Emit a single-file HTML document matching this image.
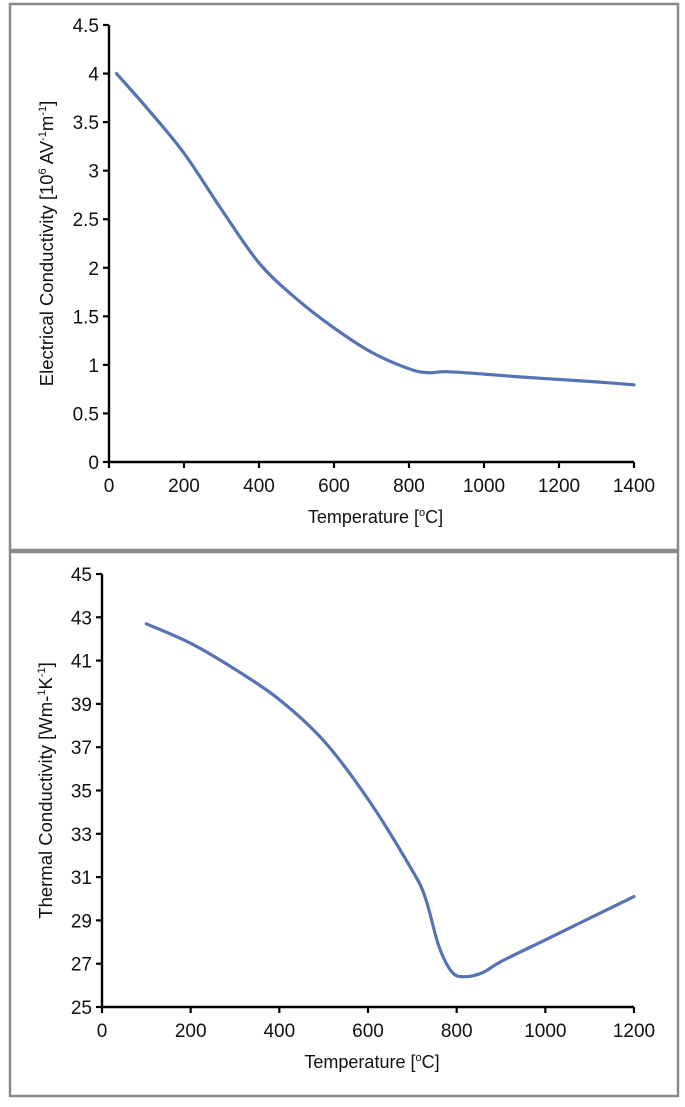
<!DOCTYPE html>
<html><head><meta charset="utf-8"><style>
html,body{margin:0;padding:0;background:#fff;}
svg{display:block;font-family:"Liberation Sans",Arial,sans-serif;}
</style></head><body>
<svg id="s" width="685" height="1107" viewBox="0 0 685 1107">
<rect x="10" y="4" width="668" height="546" fill="#fff" stroke="#8a8a8a" stroke-width="2.5"/>
<rect x="10" y="552" width="668" height="544" fill="#fff" stroke="#8a8a8a" stroke-width="2.5"/>
</svg>
<script>
// Top chart data
const elecTemps = [20,100,200,300,400,500,600,700,800,850,900,1000,1100,1200,1300,1400];
const elecValues = [4.0,3.65,3.18,2.6,2.05,1.68,1.38,1.13,0.96,0.92,0.93,0.905,0.875,0.85,0.825,0.795];
const elecXTicks = [0,200,400,600,800,1000,1200,1400];
const elecYTicks = [0,0.5,1,1.5,2,2.5,3,3.5,4,4.5];
// Bottom chart data
const thermTemps = [100,200,300,400,500,600,700,730,760,790,820,860,900,1000,1100,1200];
const thermValues = [42.7,41.8,40.6,39.2,37.3,34.6,31.3,30.0,27.8,26.6,26.4,26.6,27.1,28.1,29.1,30.1];
const thermXTicks = [0,200,400,600,800,1000,1200];
const thermYTicks = [25,27,29,31,33,35,37,39,41,43,45];

const NS="http://www.w3.org/2000/svg";
const svg=document.getElementById('s');
function mk(t,a,p){const e=document.createElementNS(NS,t);for(const k in a)e.setAttribute(k,a[k]);(p||svg).appendChild(e);return e;}

function chart(cfg){
  const g=mk('g',{});
  
  
  const sx=v=>cfg.x0+(v-cfg.xmin)/(cfg.xmax-cfg.xmin)*(cfg.x1-cfg.x0);
  const sy=v=>cfg.y0+(v-cfg.ymin)/(cfg.ymax-cfg.ymin)*(cfg.y1-cfg.y0);
  const ax=mk('path',{d:`M${cfg.x0},${cfg.y1}V${cfg.y0}H${cfg.x1}`,fill:'none',stroke:'#000','stroke-width':2.4},g);
  
  
  cfg.yt.forEach(v=>{
    const y=sy(v);
    const t=mk('line',{x1:cfg.x0-6,x2:cfg.x0,y1:y,y2:y,stroke:'#000','stroke-width':2.2},g);
    
    
    const l=mk('text',{x:cfg.x0-10,y:y+7,'text-anchor':'end','font-size':19,fill:'#111'},g);
    l.textContent=String(v);
    
    
  });
  cfg.xt.forEach(v=>{
    const x=sx(v);
    const t=mk('line',{x1:x,x2:x,y1:cfg.y0,y2:cfg.y0+6,stroke:'#000','stroke-width':2.2},g);
    
    
    const l=mk('text',{x:x,y:cfg.y0+30,'text-anchor':'middle','font-size':19,fill:'#111'},g);
    l.textContent=String(v);
    
    
  });
  const xt=mk('text',{x:(cfg.x0+cfg.x1)/2+4,y:cfg.y0+61,'text-anchor':'middle','font-size':18,fill:'#111'},g);
  xt.innerHTML='Temperature [<tspan dy="-7" font-size="11">o</tspan><tspan dy="7">C]</tspan>';
  
  
  const cy=(cfg.y0+cfg.y1)/2;
  const yt=mk('text',{x:0,y:0,'text-anchor':'middle','font-size':18.5,fill:'#111',transform:`translate(${cfg.tx},${cy}) rotate(-90)`},g);
  yt.innerHTML=cfg.ytitle;
  
  
  const P=cfg.xs.map((v,i)=>[sx(v),sy(cfg.ys[i])]);
  let d=`M${P[0][0]},${P[0][1]}`;
  for(let i=0;i<P.length-1;i++){
    const p0=P[Math.max(i-1,0)],p1=P[i],p2=P[i+1],p3=P[Math.min(i+2,P.length-1)];
    const c1=[p1[0]+(p2[0]-p0[0])/6,p1[1]+(p2[1]-p0[1])/6];
    const c2=[p2[0]-(p3[0]-p1[0])/6,p2[1]-(p3[1]-p1[1])/6];
    d+=`C${c1[0]},${c1[1]} ${c2[0]},${c2[1]} ${p2[0]},${p2[1]}`;
  }
  const ln=mk('path',{d:d,fill:'none',stroke:'#5673b5','stroke-width':3.2,'stroke-linecap':'round'},g);
  
  
}
chart({name:'electrical-conductivity-chart',x0:109,x1:634,xmin:0,xmax:1400,y0:462,y1:25,ymin:0,ymax:4.5,tx:53,
  xt:elecXTicks,yt:elecYTicks,xs:elecTemps,ys:elecValues,
  ytitle:'Electrical Conductivity [10<tspan dy="-7" font-size="11">6</tspan><tspan dy="7"> AV</tspan><tspan dy="-7" font-size="11">-1</tspan><tspan dy="7">m</tspan><tspan dy="-7" font-size="11">-1</tspan><tspan dy="7">]</tspan>'});
chart({name:'thermal-conductivity-chart',x0:102,x1:634,xmin:0,xmax:1200,y0:1007,y1:574,ymin:25,ymax:45,tx:52,
  xt:thermXTicks,yt:thermYTicks,xs:thermTemps,ys:thermValues,
  ytitle:'Thermal Conductivity [Wm-<tspan dy="-7" font-size="11">1</tspan><tspan dy="7">K</tspan><tspan dy="-7" font-size="11">-1</tspan><tspan dy="7">]</tspan>'});
</script>
</body></html>
